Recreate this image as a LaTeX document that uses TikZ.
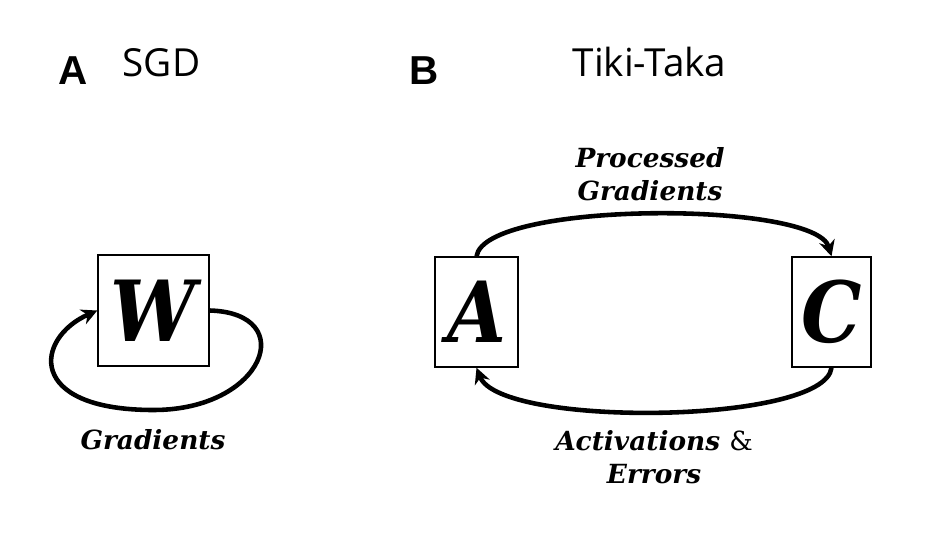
\documentclass[tikz,border=0pt]{standalone}
\usepackage{fontspec}
\setmainfont{DejaVu Serif}
\newfontfamily\bigletter{DejaVu Serif Condensed}
\newfontfamily\titlefont{Open Sans}
\newfontfamily\panelfont{Liberation Sans}
\usetikzlibrary{arrows.meta}
\tikzset{
  matrixbox/.style = {draw, line width = .8pt, inner sep = 0pt,
                      font = \bigletter\fontsize{48}{52}\selectfont\bfseries\itshape},
  flow/.style = {line width = 2.6pt, -{Stealth[length = 9pt, width = 9pt]}},
  flowlabel/.style = {align = center, font = \fontsize{15}{19}\selectfont\bfseries\itshape},
  paneltag/.style = {anchor = base, font = \panelfont\fontsize{23}{26}\selectfont\bfseries},
  paneltitle/.style = {anchor = base, font = \titlefont\fontsize{22}{26}\selectfont}
}
\begin{document}
\begin{tikzpicture}
  \useasboundingbox (0,0) rectangle (18.6,10.76);
  % panel A: SGD
  \node [paneltag] (tagA) at (1.47,9.06) {A};
  \node [paneltitle] (titleA) at (3.23,9.22) {SGD};
  \node [matrixbox, minimum width = 2.22cm, minimum height = 2.22cm]
    (W) at (3.07,4.55) {W};
  \coordinate (loopbottom) at (3.07,2.56);
  \draw [flow] (W.east) .. controls (6.0,4.5) and (5.3,2.56) .. (loopbottom)
    .. controls (0.5,2.56) and (0.7,4.0) .. (W.west);
  \node [flowlabel] (grad) at (3.06,1.96) {Gradients};
  % panel B: Tiki-Taka
  \node [paneltag] (tagB) at (8.48,9.06) {B};
  \node [paneltitle] (titleB) at (12.99,9.22) {Tiki-Taka};
  \node [matrixbox, minimum width = 1.66cm, minimum height = 2.2cm]
    (A) at (9.53,4.52) {A};
  \node [matrixbox, minimum width = 1.58cm, minimum height = 2.2cm]
    (C) at (16.63,4.52) {C};
  \draw [flow] (A.north) .. controls (9.7,6.75) and (16.3,6.75) .. (C.north);
  \draw [flow] (C.south) .. controls (16.5,2.27) and (10.0,2.2) .. (A.south);
  \node [flowlabel] (procgrad) at (13.0,7.28) {Processed\\Gradients};
  \node [flowlabel] (acterr) at (13.08,1.62)
    {Activations {\mdseries\upshape\&}\\Errors};
\end{tikzpicture}
\end{document}
